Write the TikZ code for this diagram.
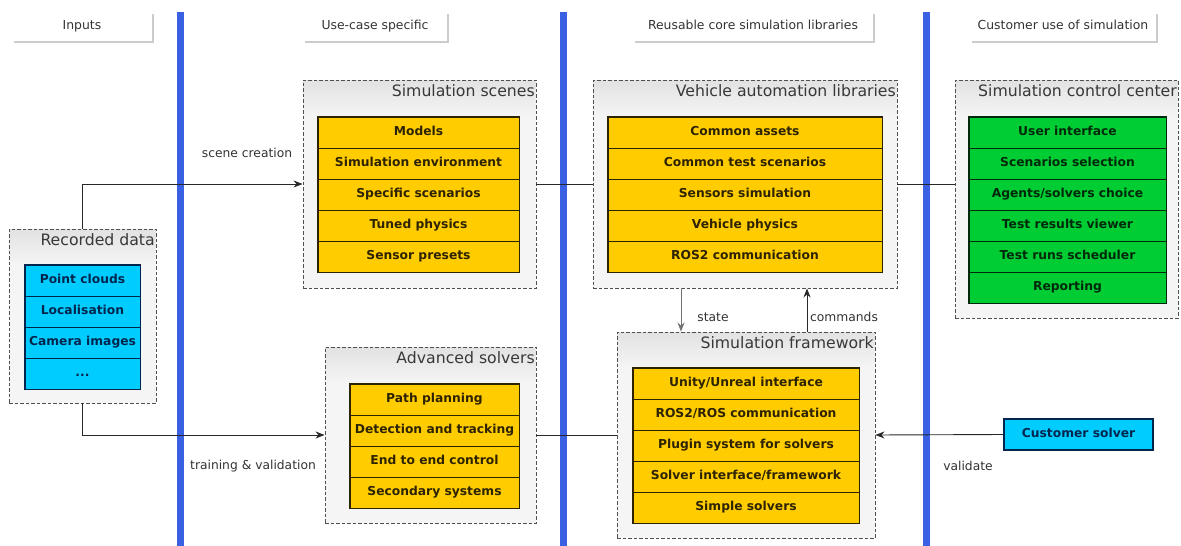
\documentclass[tikz,border=0pt]{standalone}
\usepackage{fontspec}
\setmainfont{DejaVu Sans}
\usetikzlibrary{arrows.meta,shadows}

\definecolor{laneblue}{RGB}{58,96,228}
\definecolor{cellyellow}{RGB}{255,204,0}
\definecolor{cellgreen}{RGB}{0,204,51}
\definecolor{cellcyan}{RGB}{0,204,255}
\definecolor{groupfill}{RGB}{245,245,245}
\definecolor{groupband}{RGB}{226,226,226}
\definecolor{groupedge}{RGB}{80,80,80}
\definecolor{inkyellow}{RGB}{45,35,0}
\definecolor{inkgreen}{RGB}{0,40,10}
\definecolor{inkcyan}{RGB}{0,38,77}
\definecolor{labelink}{RGB}{51,51,51}
\definecolor{wireink}{RGB}{40,40,40}

\tikzset{
  lane/.style={draw=laneblue, line width=7pt},
  header/.style={fill=white, inner sep=0pt, text=labelink,
    text height=1.5ex, text depth=.25ex,
    font=\fontsize{12.4}{14}\selectfont,
    drop shadow={shadow xshift=1.5pt, shadow yshift=-1.5pt, fill=black!20, opacity=1}},
  % dashed container whose top fades from grey into the fill
  group/.style={draw=groupedge, fill=groupfill, line width=0.9pt,
    dash pattern=on 3.5pt off 2pt, inner sep=0pt,
    path picture={
      \foreach \k in {0,...,23}{
        \pgfmathtruncatemacro{\mix}{100-\k*100/24}
        \fill[groupband!\mix!groupfill]
          ([yshift=-\k*1.5pt]path picture bounding box.north west) rectangle
          ([yshift=-\k*1.5pt-1.6pt]path picture bounding box.north east);
      }}},
  gtitle/.style={anchor=north east, inner sep=1pt, xshift=-0.5pt, yshift=-3.5pt,
    text=black!78, font=\fontsize{15.7}{18}\selectfont},
  cell/.style={draw, line width=0.7pt, inner sep=0pt, minimum height=31pt,
    text height=1.5ex, text depth=.25ex,
    font=\fontsize{12.3}{14}\selectfont\bfseries},
  ycell/.style={cell, fill=cellyellow, draw=inkyellow, text=inkyellow},
  gcell/.style={cell, fill=cellgreen, draw=inkgreen, text=inkgreen},
  ccell/.style={cell, fill=cellcyan, draw=inkcyan, text=inkcyan},
  yframe/.style={draw=inkyellow, line width=1.3pt},
  gframe/.style={draw=inkgreen, line width=1.3pt},
  cframe/.style={draw=inkcyan, line width=1.3pt},
  wire/.style={draw=wireink, line width=0.9pt},
  arrowwire/.style={wire, -{Stealth[length=9pt, width=7pt]}},
  softwire/.style={arrowwire, draw=black!55},
  elabel/.style={text=labelink, inner sep=0pt, font=\fontsize{12.3}{14}\selectfont}
}

\begin{document}
\begin{tikzpicture}[x=1pt, y=-1pt]
\useasboundingbox (0,0) rectangle (1181,546);
\fill[white] (0,0) rectangle (1181,546);

% column headers
\node[header, minimum width=140pt, minimum height=29pt] (hin) at (82,26.5) {Inputs};
\node[header, minimum width=144pt, minimum height=29pt] (huse) at (375,26.5) {Use-case specific};
\node[header, minimum width=240pt, minimum height=29pt] (hcore) at (753,26.5) {Reusable core simulation libraries};
\node[header, minimum width=186pt, minimum height=29pt] (hcust) at (1063,26.5) {Customer use of simulation};

% lane separators
\coordinate (l1t) at (180,12); \coordinate (l1b) at (180,546);
\coordinate (l2t) at (563,12); \coordinate (l2b) at (563,546);
\coordinate (l3t) at (926,12); \coordinate (l3b) at (926,546);
\draw[lane] (l1t) -- (l1b);
\draw[lane] (l2t) -- (l2b);
\draw[lane] (l3t) -- (l3b);

% group containers
\node[group, minimum width=147pt, minimum height=174pt] (rd) at (82.5,316) {};
\node[group, minimum width=233pt, minimum height=208pt] (ssg) at (419.5,184) {};
\node[group, minimum width=304pt, minimum height=208pt] (val) at (745,184) {};
\node[group, minimum width=223pt, minimum height=238pt] (scc) at (1066.5,199) {};
\node[group, minimum width=211pt, minimum height=176pt] (asg) at (430.5,435) {};
\node[group, minimum width=258pt, minimum height=206pt] (sf) at (746,435) {};

\node[gtitle] (rdt) at (rd.north east) {Recorded data};
\node[gtitle] (ssgt) at (ssg.north east) {Simulation scenes};
\node[gtitle] (valt) at (val.north east) {Vehicle automation libraries};
\node[gtitle] (scct) at (scc.north east) {Simulation control center};
\node[gtitle] (asgt) at (asg.north east) {Advanced solvers};
\node[gtitle] (sft) at (sf.north east) {Simulation framework};

% recorded data
\begin{scope}[every node/.style={ccell, minimum width=115pt}]
\node (rd1) at (82.5,280.5) {Point clouds};
\node (rd2) at (82.5,311.5) {Localisation};
\node (rd3) at (82.5,342.5) {Camera images};
\node (rd4) at (82.5,373.5) {...};
\end{scope}
\draw[cframe] (rd1.north west) rectangle (rd4.south east);

% simulation scenes
\begin{scope}[every node/.style={ycell, minimum width=201pt}]
\node (ss1) at (418.5,132.5) {Models};
\node (ss2) at (418.5,163.5) {Simulation environment};
\node (ss3) at (418.5,194.5) {Specific scenarios};
\node (ss4) at (418.5,225.5) {Tuned physics};
\node (ss5) at (418.5,256.5) {Sensor presets};
\end{scope}
\draw[yframe] (ss1.north west) rectangle (ss5.south east);

% vehicle automation libraries
\begin{scope}[every node/.style={ycell, minimum width=274pt}]
\node (va1) at (745,132.5) {Common assets};
\node (va2) at (745,163.5) {Common test scenarios};
\node (va3) at (745,194.5) {Sensors simulation};
\node (va4) at (745,225.5) {Vehicle physics};
\node (va5) at (745,256.5) {ROS2 communication};
\end{scope}
\draw[yframe] (va1.north west) rectangle (va5.south east);

% simulation control center
\begin{scope}[every node/.style={gcell, minimum width=197pt}]
\node (sc1) at (1067.5,132.5) {User interface};
\node (sc2) at (1067.5,163.5) {Scenarios selection};
\node (sc3) at (1067.5,194.5) {Agents/solvers choice};
\node (sc4) at (1067.5,225.5) {Test results viewer};
\node (sc5) at (1067.5,256.5) {Test runs scheduler};
\node (sc6) at (1067.5,287.5) {Reporting};
\end{scope}
\draw[gframe] (sc1.north west) rectangle (sc6.south east);

% advanced solvers
\begin{scope}[every node/.style={ycell, minimum width=169pt}]
\node (as1) at (434.5,399.5) {Path planning};
\node (as2) at (434.5,430.5) {Detection and tracking};
\node (as3) at (434.5,461.5) {End to end control};
\node (as4) at (434.5,492.5) {Secondary systems};
\end{scope}
\draw[yframe] (as1.north west) rectangle (as4.south east);

% simulation framework
\begin{scope}[every node/.style={ycell, minimum width=226pt}]
\node (sf1) at (746,383.5) {Unity/Unreal interface};
\node (sf2) at (746,414.5) {ROS2/ROS communication};
\node (sf3) at (746,445.5) {Plugin system for solvers};
\node (sf4) at (746,476.5) {Solver interface/framework};
\node (sf5) at (746,507.5) {Simple solvers};
\end{scope}
\draw[yframe] (sf1.north west) rectangle (sf5.south east);

% customer solver
\node[ccell, minimum width=149pt, line width=1.3pt] (cs) at (1078.5,434.5) {Customer solver};

% connectors
\draw[arrowwire] (rd.north) |- (ssg.west);
\draw[arrowwire] (rd.south) |- (asg.west);
\draw[wire] (ssg.east) -- (val.west);
\draw[wire] (val.east) -- (val.east -| scc.west);
\draw[wire] (asg.east) -- (sf.west);
\draw[arrowwire] (cs.west) -- (sf.east);
\draw[softwire] ([xshift=-64pt]val.south) -- ([xshift=-64pt]val.south |- sf.north);
\draw[arrowwire] ([xshift=62pt]val.south |- sf.north) -- ([xshift=62pt]val.south);

% connector labels
\node[elabel] (lscene) at (247,153) {scene creation};
\node[elabel] (ltrain) at (253,466) {training \& validation};
\node[elabel] (lvalid) at (968,466) {validate};
\node[elabel] (lstate) at (713,317) {state};
\node[elabel] (lcmd) at (844,317) {commands};
\end{tikzpicture}
\end{document}
